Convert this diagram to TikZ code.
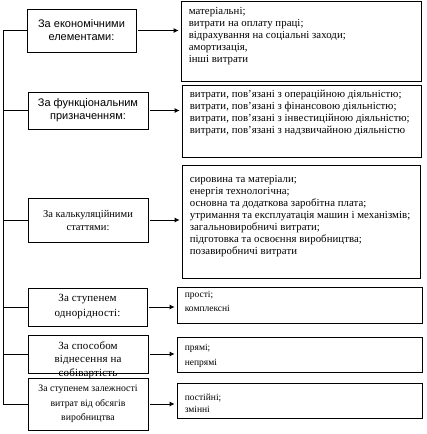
\documentclass[tikz,border=0pt]{standalone}
\usepackage{fontspec}
\setmainfont{Liberation Serif}
\newfontfamily\sansf{Liberation Sans}
\newfontfamily\serifa[LetterSpace=0.5]{Liberation Serif}
\newfontfamily\serifb[LetterSpace=1.5]{Liberation Serif}
\newcommand\topstrut{\rule{0pt}{9pt}}
\usetikzlibrary{arrows.meta}
\tikzset{
  leftbox/.style={draw, line width=0.8pt, inner sep=0pt, align=center},
  rightbox/.style={draw, line width=0.8pt, inner sep=0pt},
  listtext/.style={anchor=north west, inner sep=0pt, align=left,
    font=\serifa\fontsize{10.8}{12}\selectfont},
  shorttext/.style={anchor=north west, inner sep=0pt, align=left},
  link/.style={line width=0.8pt},
  arr/.style={line width=0.8pt, -{Latex[length=5pt,width=5pt]}, shorten <=2pt, shorten >=2pt}
}
\begin{document}
\begin{tikzpicture}[x=1pt,y=-1pt]
\useasboundingbox (0,0) rectangle (426,434);
% left boxes
\node[leftbox, minimum width=109pt, minimum height=43pt, font=\sansf\fontsize{11}{13}\selectfont] (l1) at (81.5,30.5) {За економічними\\елементами:};
\node[leftbox, minimum width=120pt, minimum height=37pt, font=\sansf\fontsize{11}{13}\selectfont] (l2) at (88,110.5) {За функціональним\\призначенням:};
\node[leftbox, minimum width=120pt, minimum height=44pt, font=\fontsize{10.5}{13}\selectfont] (l3) at (88,220) {За калькуляційними\\статтями:};
\node[leftbox, minimum width=119pt, minimum height=38pt, font=\serifb\fontsize{11}{15}\selectfont] (l4) at (87.5,307) {За ступенем\\однорідності:};
\node[leftbox, minimum width=120pt, minimum height=38pt] (l5) at (88,354) {};
\node[align=center, inner sep=0pt, font=\serifb\fontsize{11}{13.5}\selectfont] (l5t) at (88,360) {За способом\\віднесення на\\собівартість};
\node[leftbox, minimum width=120pt, minimum height=52pt, font=\fontsize{9.8}{14.5}\selectfont] (l6) at (88,404) {За ступенем залежності\\витрат від обсягів\\виробництва};
% right boxes
\node[rightbox, minimum width=240pt, minimum height=80pt] (r1) at (301,41) {};
\node[rightbox, minimum width=239pt, minimum height=72pt] (r2) at (301.5,121) {};
\node[rightbox, minimum width=238pt, minimum height=113pt] (r3) at (301,221.5) {};
\node[rightbox, minimum width=245pt, minimum height=36pt] (r4) at (299.5,305) {};
\node[rightbox, minimum width=245pt, minimum height=35pt] (r5) at (299.5,354.5) {};
\node[rightbox, minimum width=245pt, minimum height=35pt] (r6) at (299.5,400.5) {};
% right texts
\node[listtext] (t1) at ([xshift=8pt,yshift=-4.5pt]r1.north west) {\topstrut матеріальні;\\витрати на оплату праці;\\відрахування на соціальні заходи;\\амортизація,\\інші витрати};
\node[listtext] (t2) at ([xshift=8pt,yshift=-3.5pt]r2.north west) {\topstrut витрати, пов’язані з операційною діяльністю;\\витрати, пов’язані з фінансовою діяльністю;\\витрати, пов’язані з інвестиційною діяльністю;\\витрати, пов’язані з надзвичайною діяльністю};
\node[listtext] (t3) at ([xshift=8pt,yshift=-8.5pt]r3.north west) {\topstrut сировина та матеріали;\\енергія технологічна;\\основна та додаткова заробітна плата;\\утримання та експлуатація машин і механізмів;\\загальновиробничі витрати;\\підготовка та освоєння виробництва;\\позавиробничі витрати};
\node[shorttext, font=\fontsize{9.5}{14.5}\selectfont] (t4) at ([xshift=8pt,yshift=-1.5pt]r4.north west) {\topstrut прості;\\комплексні};
\node[shorttext, font=\fontsize{9.5}{15}\selectfont] (t5) at ([xshift=8pt,yshift=-4.5pt]r5.north west) {\topstrut прямі;\\непрямі};
\node[shorttext, font=\fontsize{9.5}{12}\selectfont] (t6) at ([xshift=8pt,yshift=-8.5pt]r6.north west) {\topstrut постійні;\\змінні};
% spine
\coordinate (spine) at (3,0);
\draw[link] (l1.west) -- (l1.west -| spine) -- (l6.west -| spine) -- (l6.west);
\foreach \k in {2,3,4,5} \draw[link] (l\k.west) -- (l\k.west -| spine);
% arrows
\foreach \k in {1,...,6} \draw[arr] (l\k.east) -- (l\k.east -| r\k.west);
\end{tikzpicture}
\end{document}
